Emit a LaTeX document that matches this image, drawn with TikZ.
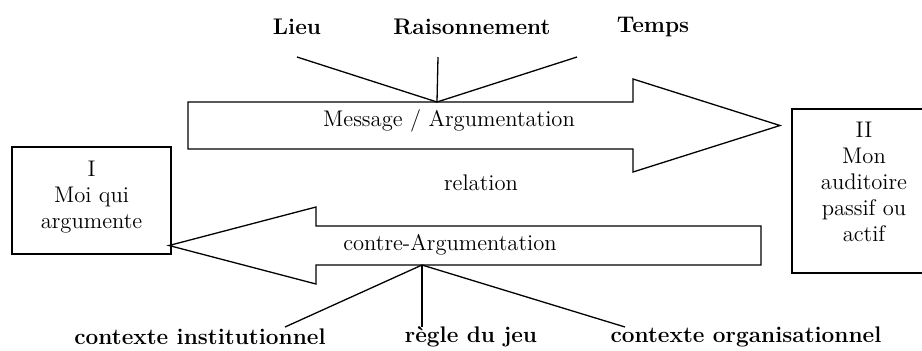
\documentclass[tikz,border=0pt]{standalone}
\begin{document}
\begin{tikzpicture}[x=0.5pt,y=-0.5pt,
  line/.style={draw=black,line width=0.65pt},
  lbl/.style={font=\fontsize{11.3}{13}\selectfont,inner sep=0pt,align=center},
  blbl/.style={font=\fontsize{11.3}{13}\selectfont\bfseries,inner sep=0pt},
  bigarrow/.style={draw=black,line width=0.65pt,fill=white,line join=miter}]
\useasboundingbox (0,0) rectangle (922,350);
\clip (0,0) rectangle (922,350);
% top labels
\node[blbl] (lieu) at (297,27) {Lieu};
\node[blbl] (rais) at (472,27) {Raisonnement};
\node[blbl] (temps) at (653,27) {Temps};
\coordinate (lieuend) at (297,57);
\coordinate (raisend) at (438,57);
\coordinate (tempsend) at (577,57);
\coordinate (top) at (437,102);
% upper arrow
\draw[bigarrow] (188,102) -- (633,102) -- (633,79) -- (780,125.5) coordinate (uptip) -- (633,172) -- (633,149) -- (188,149) -- cycle;
\node[lbl] (msg) at (449,121) {Message / Argumentation};
\draw[line] (lieuend) -- (top);
\draw[line] (raisend) -- (top);
\draw[line] (tempsend) -- (top);
% relation
\node[lbl] (rel) at (481,183) {relation};
% lower arrow
\draw[bigarrow] (761,226) -- (316,226) -- (316,207) -- (169,245.5) coordinate (lowtip) -- (316,284) -- (316,265) -- (761,265) -- cycle;
\node[lbl] (contre) at (450,245) {contre-Argumentation};
\coordinate (bot) at (422,265);
\coordinate (instend) at (285,327);
\coordinate (regleend) at (422,327);
\coordinate (orgend) at (625,327);
\draw[line] (bot) -- (instend);
\draw[line] (bot) -- (regleend);
\draw[line] (bot) -- (orgend);
\node[blbl] (inst) at (200,337) {contexte institutionnel};
\node[blbl] (regle) at (471,337) {règle du jeu};
\node[blbl] (org) at (746,337) {contexte organisationnel};
% boxes
\draw[line] (12,147) rectangle (171,254);
\node[lbl] (moi) at (91.5,197) {I\\Moi qui\\argumente};
\draw[line] (792,109) rectangle (936,273);
\node[lbl] (aud) at (864,182) {II\\Mon\\auditoire\\passif ou\\actif};
\end{tikzpicture}
\end{document}
